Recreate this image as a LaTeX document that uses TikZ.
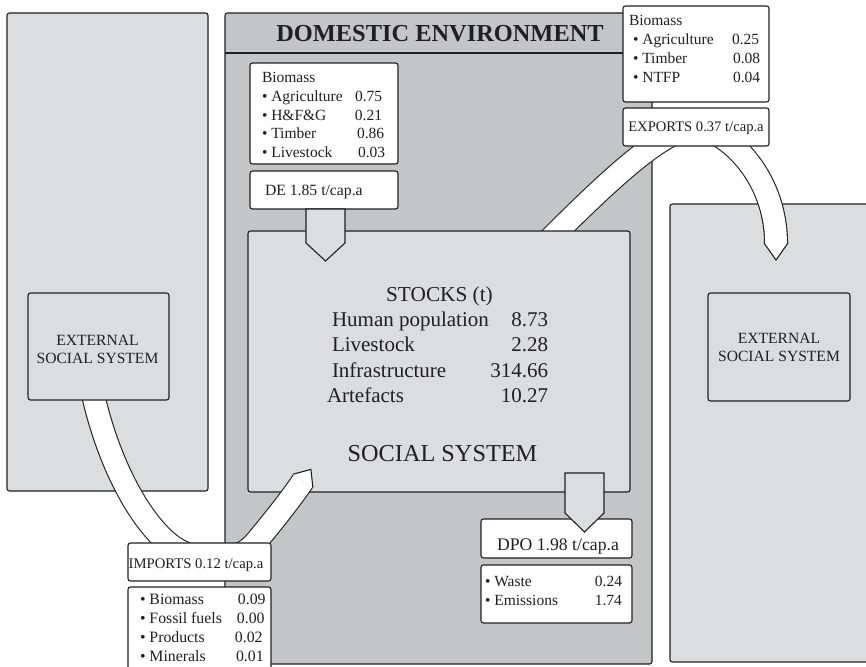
\documentclass[tikz,border=0pt]{standalone}
\usepackage{fontspec}
\setmainfont{Liberation Serif}
\usetikzlibrary{calc}
\definecolor{panelgrey}{RGB}{220,221,223}
\definecolor{envgrey}{RGB}{196,197,199}
\definecolor{inkline}{RGB}{35,31,32}
\newcommand{\fsz}[2]{\fontsize{#1}{#2}\selectfont}

\begin{document}
\begin{tikzpicture}[x=1pt,y=-1pt,
  outline/.style={draw=inkline,line width=1.1pt,rounded corners=2.5pt},
  boxsize/.style 2 args={minimum width=#1pt,minimum height=#2pt,inner sep=0pt,outer sep=0pt,anchor=north west},
  panel/.style={outline,fill=panelgrey},
  env/.style={outline,fill=envgrey},
  label/.style={outline,fill=white},
  txt/.style={inner sep=0pt,outer sep=0pt,text=inkline},
  bandedge/.style={draw=inkline,line width=24pt,line join=round},
  bandcore/.style={draw=white,line width=21.8pt,line join=round},
  headedge/.style={draw=inkline,line width=1.1pt,line join=miter},
  flowarrow/.style={draw=inkline,fill=panelgrey,line width=1.1pt,line join=miter}
]
\useasboundingbox (0,0) rectangle (866,666);
\clip (0,0) rectangle (866,666);

% outer systems and domestic environment
\node[panel,boxsize={201}{478}] (leftpanel) at (7,13) {};
\node[panel,boxsize={210}{458}] (rightpanel) at (670,204) {};
\node[env,boxsize={427}{651}] (domestic) at (225,13) {};
\draw[draw=inkline,line width=1.1pt] ($(domestic.north west)+(0,40)$) -- ($(domestic.north east)+(0,40)$);
\node[txt,font=\bfseries\fsz{24.4}{28}] (title) at (440,33.5) {DOMESTIC ENVIRONMENT};

% export flow band (behind the social system box)
\coordinate (ex0) at (548,241);
\coordinate (ex1) at (695,128);
\coordinate (ex2) at (776,243);
\coordinate (exL) at (764,243);
\coordinate (exR) at (788,243);
\coordinate (exT) at (776,260);
\path[bandedge] (ex0) .. controls (613,176) and (665,128) .. (ex1) .. controls (725,128) and (776,175) .. (ex2);
\path[bandcore] (ex0) .. controls (613,176) and (665,128) .. (ex1) .. controls (725,128) and (776,175) .. (ex2);
\fill[white] (exL) -- (exT) -- (exR) -- cycle;
\draw[headedge] (exL) -- (exT) -- (exR);

% social system
\node[panel,boxsize={382}{261}] (stocks) at (248,231) {};

% import flow band
\coordinate (im0) at (92,390);
\coordinate (im1) at (168,543);
\coordinate (im2) at (255,543);
\coordinate (im3) at (303,481);
\coordinate (imL) at (293.1,474.2);
\coordinate (imR) at (312.9,487.8);
\coordinate (imT) at (310.9,469.4);
\path[bandedge] (im0) .. controls (106,455) and (135,515) .. (im1) .. controls (190,561) and (230,570) .. (im2) .. controls (275,519) and (290,500) .. (im3);
\path[bandcore] (im0) .. controls (106,455) and (135,515) .. (im1) .. controls (190,561) and (230,570) .. (im2) .. controls (275,519) and (290,500) .. (im3);
\fill[white] (imL) -- (imT) -- (imR) -- cycle;
\draw[headedge] (imL) -- (imT) -- (imR);

% external social systems
\node[panel,boxsize={141}{107}] (extL) at (28,293) {};
\node[panel,boxsize={142}{108}] (extR) at (708,293) {};

% flow labels
\node[label,boxsize={148}{101}] (deBio) at (250,63) {};
\node[label,boxsize={148}{38}] (de) at (250,171) {};
\node[label,boxsize={146}{96}] (exBio) at (623,6) {};
\node[label,boxsize={146}{38}] (exports) at (623,108) {};
\node[label,boxsize={151}{39}] (dpo) at (481,519) {};
\node[label,boxsize={151}{58}] (dpoList) at (481,565) {};
\node[label,boxsize={143}{38}] (imports) at (128,543) {};
\node[label,boxsize={143}{100}] (imList) at (128,587) {};

% block arrows: extraction into and output from the social system
\coordinate (deIn) at ($(de.south west)+(75.5,0)$);
\draw[flowarrow] ($(deIn)+(-19.5,0)$) -- ++(0,34) -- ($(deIn)+(0,52)$) -- ($(deIn)+(19.5,34)$) -- ($(deIn)+(19.5,0)$) -- cycle;
\coordinate (dpoOut) at (584.5,473);
\draw[flowarrow] ($(dpoOut)+(-19.5,0)$) -- ++(0,40) -- ($(dpoOut)+(0,59)$) -- ($(dpoOut)+(19.5,40)$) -- ($(dpoOut)+(19.5,0)$) -- cycle;

% texts
\node[txt,anchor=base west,font=\fsz{15.5}{18.7}] (deBioText) at (262,82.7) {\begin{tabular}[t]{@{}l@{}}
Biomass\\
\makebox[93pt][l]{• Agriculture}0.75\\
\makebox[93pt][l]{• H\&F\&G}0.21\\
\makebox[95pt][l]{• Timber}0.86\\
\makebox[96pt][l]{• Livestock}0.03
\end{tabular}};
\node[txt,anchor=base west,font=\fsz{15.7}{18}] (deText) at (265,195) {DE 1.85 t/cap.a};

\node[txt,anchor=base west,font=\fsz{15.5}{19}] (exBioText) at (629,26) {\begin{tabular}[t]{@{}l@{}}
Biomass\\
\hspace*{4pt}\makebox[99pt][l]{• Agriculture}0.25\\
\hspace*{4pt}\makebox[100pt][l]{• Timber}0.08\\
\hspace*{4pt}\makebox[100pt][l]{• NTFP}0.04
\end{tabular}};
\node[txt,anchor=base,font=\fsz{14.6}{18}] (exportsText) at (696,131.5) {EXPORTS 0.37 t/cap.a};

\node[txt,anchor=base,font=\fsz{21.3}{25}] (stocksHead) at (439.5,301) {STOCKS (t)};
\node[txt,anchor=base west,font=\fsz{21}{25.2}] (stocksText) at (332,326.7) {\begin{tabular}[t]{@{}l@{}}
\makebox[216pt]{Human population\hfill 8.73}\\
\makebox[216pt]{Livestock\hfill 2.28}\\
\makebox[216pt]{Infrastructure\hfill 314.66}\\
\hspace*{-5pt}\makebox[221pt]{Artefacts\hfill 10.27}
\end{tabular}};
\node[txt,anchor=base,font=\fsz{24.3}{28}] (socialText) at (442.5,461.7) {SOCIAL SYSTEM};

\node[txt,anchor=base west,font=\fsz{17.7}{20}] (dpoText) at (497,550) {DPO 1.98 t/cap.a};
\node[txt,anchor=base west,font=\fsz{15.5}{19}] (dpoListText) at (485,586.7) {\begin{tabular}[t]{@{}l@{}}
\makebox[137pt]{• Waste\hfill 0.24}\\
\makebox[137pt]{• Emissions\hfill 1.74}
\end{tabular}};

\node[txt,anchor=base,font=\fsz{14.7}{18}] (importsText) at (196,568) {IMPORTS 0.12 t/cap.a};
\node[txt,anchor=base west,font=\fsz{15.8}{19.2}] (imListText) at (140,604) {\begin{tabular}[t]{@{}l@{}}
\makebox[98pt][l]{• Biomass}0.09\\
\makebox[97pt][l]{• Fossil fuels}0.00\\
\makebox[95pt][l]{• Products}0.02\\
\makebox[96pt][l]{• Minerals}0.01
\end{tabular}};

\node[txt,anchor=base,font=\fsz{15.6}{18.3}] (extLText) at (97.5,345) {\begin{tabular}[t]{@{}c@{}}EXTERNAL\\SOCIAL SYSTEM\end{tabular}};
\node[txt,anchor=base,font=\fsz{15.6}{18.3}] (extRText) at (779,343.5) {\begin{tabular}[t]{@{}c@{}}EXTERNAL\\SOCIAL SYSTEM\end{tabular}};
\end{tikzpicture}
\end{document}
